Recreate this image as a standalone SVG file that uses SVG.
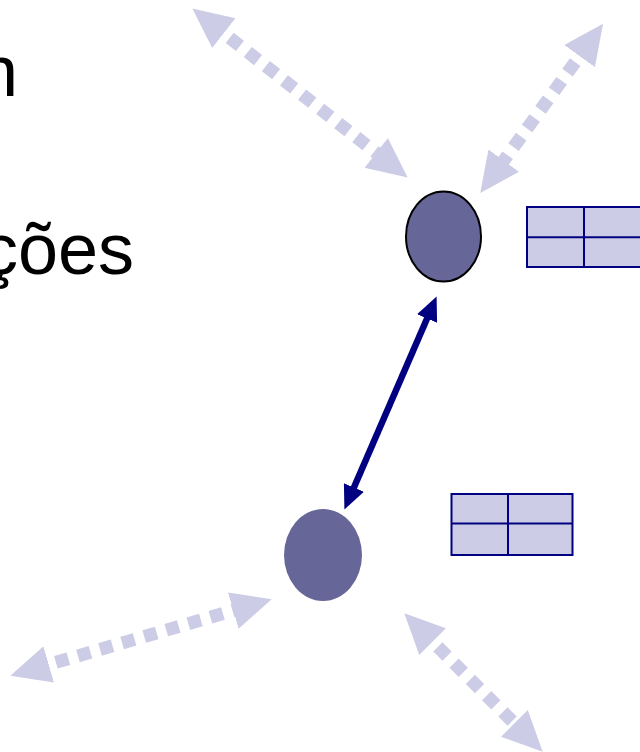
<svg xmlns="http://www.w3.org/2000/svg" width="640" height="752" viewBox="0 0 640 752">
<style>
.txt{font-family:"Liberation Sans",Arial,sans-serif;font-size:72px;fill:#000}
.dot{stroke:#CCCCE6;stroke-width:13;stroke-dasharray:13 10;fill:none;marker-start:url(#hl);marker-end:url(#hl)}
.nav{stroke:#000080;stroke-width:6.5;fill:none;marker-start:url(#hn);marker-end:url(#hn)}
.tbl{fill:#CCCCE6;stroke:#000080;stroke-width:2}
.tl{stroke:#000080;stroke-width:2}
</style>
<defs>
<marker id="hl" markerUnits="userSpaceOnUse" markerWidth="40" markerHeight="40" viewBox="0 0 36 34" refX="14" refY="17" orient="auto-start-reverse">
<path d="M0,0 L36,17 L0,34 z" fill="#CCCCE6"/>
</marker>
<marker id="hn" markerUnits="userSpaceOnUse" markerWidth="24" markerHeight="22" viewBox="0 0 22 20" refX="4" refY="10" orient="auto-start-reverse">
<path d="M0,0 L22,10 L0,20 z" fill="#000080"/>
</marker>
</defs>
<g id="text">
<text class="txt" x="-22" y="96">n</text>
<text class="txt" x="-18" y="274">ções</text>
</g>
<g id="connectors">
<line class="dot" x1="211.6" y1="23.6" x2="388.4" y2="162.4"/>
<line class="dot" x1="588.7" y1="43.5" x2="494.6" y2="173.2"/>
<line class="dot" x1="33.8" y1="668.8" x2="248.2" y2="606.2"/>
<line class="dot" x1="421.6" y1="630.6" x2="525.4" y2="734.4"/>
<line class="nav" x1="352.2" y1="491.5" x2="428.8" y2="314.5"/>
</g>
<g id="node-top">
<ellipse cx="443.5" cy="236.5" rx="37.5" ry="45" fill="#666699" stroke="#000" stroke-width="2"/>
</g>
<g id="table-top">
<rect class="tbl" x="527" y="207" width="122" height="60"/>
<line class="tl" x1="584" y1="207" x2="584" y2="267"/>
<line class="tl" x1="527" y1="237.3" x2="649" y2="237.3"/>
</g>
<g id="node-bottom">
<ellipse cx="323" cy="555" rx="39" ry="46" fill="#666699"/>
</g>
<g id="table-bottom">
<rect class="tbl" x="451.5" y="494" width="121" height="61"/>
<line class="tl" x1="508" y1="494" x2="508" y2="555"/>
<line class="tl" x1="451.5" y1="523.5" x2="572.5" y2="523.5"/>
</g>
</svg>
